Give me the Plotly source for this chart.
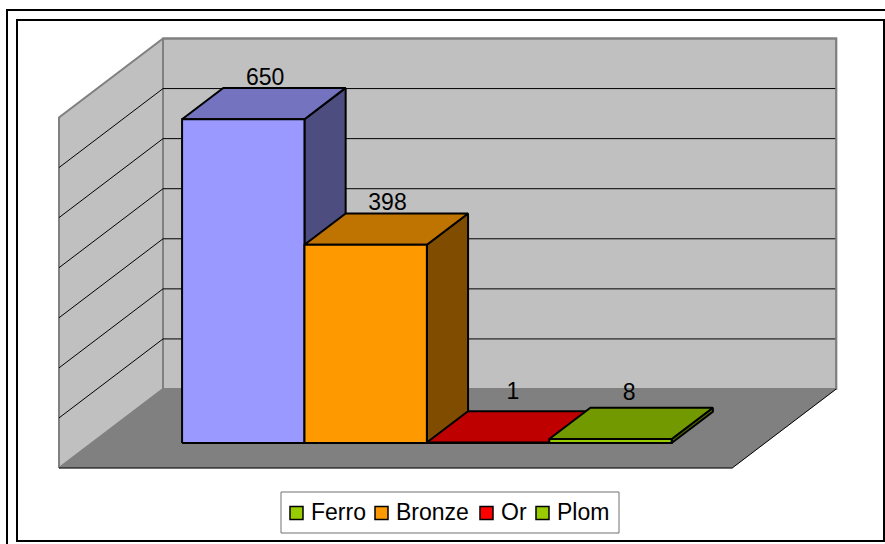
import plotly.graph_objects as go

# ---- data ----
categories = ["Ferro", "Bronze", "Or", "Plom"]
values = [650, 398, 1, 8]
legend_colors = ["#99CC00", "#FF9900", "#FF0000", "#99CC00"]
front_colors = ["#9999FF", "#FF9900", "#FF0000", "#99CC00"]
top_colors = ["#7373BF", "#BF7300", "#BF0000", "#739900"]
side_colors = ["#4D4D80", "#804D00", "#800000", "#4D6600"]
y_ticks = [0, 100, 200, 300, 400, 500, 600, 700]

# ---- oblique projection, in axis units ----
W, H = 885, 544
FLOOR_LEFT, FLOOR_BOTTOM = 59, 468
BAR_PX = 122.4        # px per bar slot (x unit)
VAL_PX = 350.5 / 700  # px per value unit
DEPTH_X = 104 / BAR_PX   # full depth in x units
DEPTH_Y = 79 / VAL_PX    # full depth in y units
XMAX = 5.5
YMAX = 700
BAR_START = 0.737     # first bar's slot on floor
Z0, Z1 = 0.316, 0.712  # bar depth span
BAR_SCALE = 0.995     # slight foreshortening of the bars against the wall scale


def proj(x, y, z):
    return x + z * DEPTH_X, y + z * DEPTH_Y


def poly(points):
    pts = [proj(*p) for p in points]
    pts.append(pts[0])
    return [p[0] for p in pts], [p[1] for p in pts]


fig = go.Figure()


def add_face(points, fill, line_color="black", line_width=2):
    xs, ys = poly(points)
    fig.add_trace(go.Scatter(x=xs, y=ys, mode="lines", fill="toself", fillcolor=fill,
                             line=dict(color=line_color, width=line_width),
                             hoverinfo="skip", showlegend=False))


def add_line(points, color, width):
    pts = [proj(*p) for p in points]
    fig.add_trace(go.Scatter(x=[p[0] for p in pts], y=[p[1] for p in pts], mode="lines",
                             line=dict(color=color, width=width), hoverinfo="skip", showlegend=False))


# walls and floor
add_face([(0, 0, 1), (XMAX, 0, 1), (XMAX, YMAX, 1), (0, YMAX, 1)], "#C0C0C0", "#808080", 2)
add_face([(0, 0, 0), (0, 0, 1), (0, YMAX, 1), (0, YMAX, 0)], "#C0C0C0", "#808080", 2)
for t in y_ticks[1:-1]:
    add_line([(0, t, 0), (0, t, 1), (XMAX, t, 1)], "#000000", 1)
add_line([(0, YMAX, 1), (XMAX, YMAX, 1), (XMAX, 0, 1)], "#808080", 2)
add_face([(0, 0, 0), (XMAX, 0, 0), (XMAX, 0, 1), (0, 0, 1)], "#808080", "#808080", 0.5)
add_line([(0, 0, 0), (XMAX, 0, 0), (XMAX, 0, 1)], "#000000", 1)

# bars, left to right: each bar overlaps the side of the previous one
for i in range(len(values)):
    x0, x1, v = BAR_START + i, BAR_START + i + 1, values[i] * BAR_SCALE
    add_face([(x1, 0, Z0), (x1, 0, Z1), (x1, v, Z1), (x1, v, Z0)], side_colors[i])
    add_face([(x0, v, Z0), (x1, v, Z0), (x1, v, Z1), (x0, v, Z1)], top_colors[i])
    add_face([(x0, 0, Z0), (x1, 0, Z0), (x1, v, Z0), (x0, v, Z0)], front_colors[i])

# value labels
label_lift = [18, 18, 35, 27]
label_nudge = [0.01, 0.01, 0.035, -0.015]
lx, ly = [], []
Z_MID = (Z0 + Z1) / 2
for i, v in enumerate(values):
    px = proj(BAR_START + i + 0.5 + label_nudge[i], 0, Z_MID)[0]
    py = proj(0, v * BAR_SCALE + label_lift[i], Z1)[1]
    lx.append(px)
    ly.append(py)
fig.add_trace(go.Scatter(x=lx, y=ly, mode="text", text=[str(v) for v in values],
                         textposition="middle center",
                         textfont=dict(family="Liberation Sans", size=23, color="#000000"),
                         hoverinfo="skip", showlegend=False))

# legend box, swatches and labels
LEGEND_BOX = (281, 492, 619, 533)
SWATCH_LEFT = [290, 375, 480, 536]
TEXT_LEFT = [311, 395.5, 500.5, 557]
SWATCH_SIZE = 13
SWATCH_TOP, SWATCH_MID = 506.5, 512


def px_x(p):
    return p / W


def px_y(p):
    return 1 - p / H


shapes = [
    dict(type="rect", xref="paper", yref="paper", x0=px_x(7), x1=px_x(890), y0=px_y(10), y1=px_y(550),
         line=dict(color="black", width=2), layer="below"),
    dict(type="rect", xref="paper", yref="paper", x0=px_x(17), x1=px_x(884), y0=px_y(20), y1=px_y(541),
         line=dict(color="black", width=2), layer="below"),
    dict(type="rect", xref="paper", yref="paper", x0=px_x(LEGEND_BOX[0]), x1=px_x(LEGEND_BOX[2]),
         y0=px_y(LEGEND_BOX[1]), y1=px_y(LEGEND_BOX[3]),
         line=dict(color="#707070", width=1), fillcolor="white", layer="above"),
]
annotations = []
for name, col, sx, tx in zip(categories, legend_colors, SWATCH_LEFT, TEXT_LEFT):
    shapes.append(dict(type="rect", xref="paper", yref="paper", x0=px_x(sx), x1=px_x(sx + SWATCH_SIZE),
                       y0=px_y(SWATCH_TOP), y1=px_y(SWATCH_TOP + SWATCH_SIZE),
                       line=dict(color="black", width=1.5), fillcolor=col, layer="above"))
    annotations.append(dict(xref="paper", yref="paper", x=px_x(tx), y=px_y(SWATCH_MID),
                            xanchor="left", yanchor="middle", text=name, showarrow=False,
                            borderpad=0, borderwidth=0,
                            font=dict(family="Liberation Sans", size=23, color="#000000")))

x_left = -FLOOR_LEFT / BAR_PX
x_right = (W - FLOOR_LEFT) / BAR_PX
y_bottom = -(H - FLOOR_BOTTOM) / VAL_PX
y_top = FLOOR_BOTTOM / VAL_PX
fig.update_layout(
    width=W, height=H, margin=dict(l=0, r=0, t=0, b=0, autoexpand=False),
    paper_bgcolor="white", plot_bgcolor="white",
    xaxis=dict(range=[x_left, x_right], visible=False, fixedrange=True),
    yaxis=dict(range=[y_bottom, y_top], visible=False, fixedrange=True),
    showlegend=False,
    shapes=shapes,
    annotations=annotations,
)
fig.write_html("out.html", config={"displayModeBar": False},
               post_script="document.body.style.margin='0';document.body.style.overflow='hidden';")
